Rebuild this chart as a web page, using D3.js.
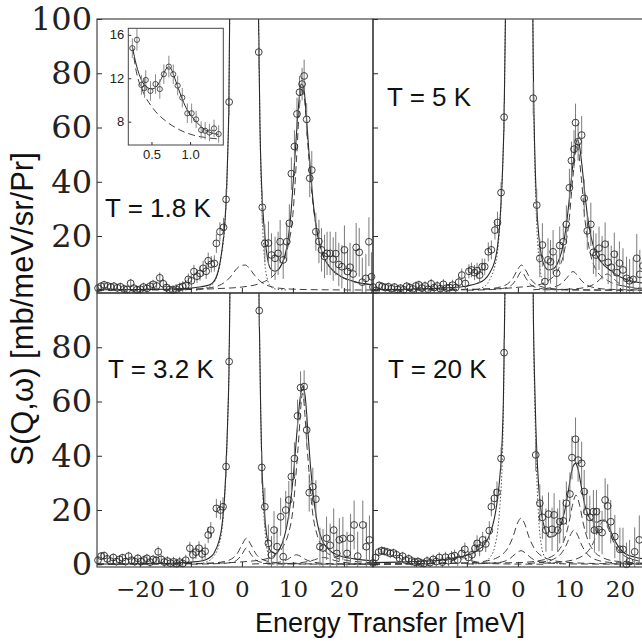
<!DOCTYPE html>
<html><head><meta charset="utf-8">
<script src="https://cdn.jsdelivr.net/npm/d3@7"></script>
<style>body{margin:0;background:#fff}svg{display:block}</style>
</head><body><svg id="c" width="642" height="642"></svg>
<script>
// ---------- data ----------
const xDomain = [-28.4, 25.7];
const yDomain = [-1, 100];
const xTicks = [-20, -10, 0, 10, 20];
const yTicksTop = [0, 20, 40, 60, 80, 100];
const yTicksBottom = [0, 20, 40, 60, 80];
const panelLabels = ["T = 1.8 K", "T = 5 K", "T = 3.2 K", "T = 20 K"];
const xTitle = "Energy Transfer [meV]";
const yTitle = "S(Q,\u03c9) [mb/meV/sr/Pr]";

// [E, S, error]
const pts18 = [[-28.2,0.8,1.5],[-27.6,1.5,1.5],[-27.0,2.0,1.5],[-26.3,1.6,1.5],[-25.7,1.2,1.5],[-25.1,1.5,1.5],[-24.4,0.9,1.5],[-23.8,1.3,1.5],[-23.1,0.5,1.5],[-22.5,0.3,1.5],[-21.8,2.6,1.6],[-21.2,0.8,1.6],[-20.6,0.2,1.6],[-19.9,0.4,1.6],[-19.3,1.2,1.6],[-18.6,0.7,1.6],[-18.0,1.5,1.7],[-17.4,2.2,1.7],[-16.7,1.6,1.7],[-16.1,4.6,2],[-15.4,2.4,1.8],[-14.8,1.0,1.8],[-14.2,0.3,1.8],[-13.5,0.1,1.8],[-12.9,0.4,1.9],[-12.2,1.0,1.9],[-11.6,1.4,2],[-11.0,1.8,2],[-10.5,4.0,2.2],[-9.9,3.5,2.3],[-9.4,6.9,2.5],[-8.8,5.2,2.5],[-8.2,6.2,2.6],[-7.6,8.1,2.8],[-7.0,7.0,2.8],[-6.6,10.9,3],[-6.0,9.6,3],[-5.4,9.9,3],[-5.0,17.3,3.5],[-4.3,21.6,3.5],[-3.6,23.2,3.5],[-3.1,33.5,4],[-2.5,69.4,5],
[3.3,87.8,6],[4.0,30.6,6],[4.5,17.3,7],[5.2,17.4,8],[5.8,13.0,8],[6.5,11.8,8],[7.1,13.6,8],[7.5,17.9,8],[8.1,11.2,7],[8.8,17.9,7],[9.3,24.7,7],[9.7,43.0,6],[10.3,53,6],[10.8,65,6],[11.3,73,6],[11.8,76,6],[12.2,79,6],[12.7,63,6],[13.3,41.3,7],[13.7,44.3,7],[14.5,21.6,7],[15.1,18,8],[15.6,14.9,8],[16.2,12.5,8],[16.7,13.6,8],[17.3,13.6,8],[17.9,11.5,8],[18.4,13.5,8],[19.0,9.5,8],[19.6,8.7,8],[20.1,14.9,9],[20.7,6.9,8],[21.2,8.5,9],[21.8,6,9],[22.4,15.8,9],[23.0,14,9],[23.6,3,9],[24.3,4.4,9],[24.9,17.9,9],[25.4,5,9]];
const fit18 = [[-28.4,0.2],[-20,0.3],[-14,0.5],[-10,0.8],[-8,1.3],[-6.3,2],[-5,5],[-4,13.6],[-3.3,26],[-3.0,37],[-2.75,52],[-2.55,69],[-2.4,100],[-2.2,140],[3.0,140],[3.2,110],[3.35,88],[3.55,60],[3.8,42],[4.1,30],[4.5,20],[5.0,12],[5.6,8],[6.5,7],[7.5,8.5],[8.3,12],[9.0,18],[9.6,28],[10.1,41],[10.6,55],[11.1,68],[11.6,76],[12.1,75],[12.6,65],[13.1,52],[13.7,38],[14.3,27],[15,19],[16,12.5],[17.5,8],[19.5,5],[22,3.2],[25.7,2]];
const elas18 = [[-9,0],[-6.3,1.5],[-5,4.5],[-4,13],[-3.3,25],[-3.0,36],[-2.75,52],[-2.55,69],[-2.4,100],[-2.2,140],[3.0,140],[3.2,110],[3.35,88],[3.55,60],[3.8,38],[4.1,22],[4.5,10],[5.0,4],[5.6,1.5],[6.5,0.5],[9,0.1]];
const qe18 = [[-28.4,0.1],[-12,0.3],[-8,0.6],[-6,1],[-4,2.2],[-3,3.5],[-2,5.5],[-1,8],[0,9.2],[0.7,9.3],[1.5,8],[2.5,5.5],[3.5,3.5],[4.5,2.2],[6,1.2],[9,0.5],[15,0.2],[25.7,0.1]];
const inel18 = [[-28.4,0.1],[-10,0.3],[-5,0.6],[0,1.2],[3,2.2],[5,3.8],[6.5,6],[8,10.5],[9,16],[10,28],[10.7,48],[11.3,68],[11.8,75],[12.3,70],[13,52],[13.7,36],[14.5,24],[15.5,15],[17,9],[19,5.5],[22,3.2],[25.7,2]];

const pts5 = [[-28.4,1.2,1.5],[-27.8,0.0,1.5],[-27.2,1.8,1.5],[-26.6,1.4,1.5],[-26.0,1.0,1.5],[-25.4,1.3,1.5],[-24.8,0.6,1.5],[-24.2,1.2,1.5],[-23.6,0.3,1.5],[-23.0,0.8,1.5],[-22.4,0.2,1.6],[-21.8,1.5,1.6],[-21.2,1.0,1.6],[-20.6,0.5,1.6],[-20.0,1.6,1.6],[-19.4,2.0,1.6],[-18.8,0.8,1.7],[-18.2,1.6,1.7],[-17.6,0.4,1.7],[-17.0,2.4,1.8],[-16.4,1.0,1.8],[-15.8,1.6,1.8],[-15.2,0.6,1.8],[-14.6,2.2,1.9],[-14.0,0.8,1.9],[-13.4,1.0,2],[-12.8,1.9,2],[-12.2,1.0,2],[-11.6,3.0,2.2],[-11.0,5.6,2.4],[-10.3,2.5,2.4],[-9.6,7.0,2.6],[-9.1,7.5,2.7],[-8.5,6.5,2.8],[-8.0,7.2,2.9],[-7.5,5.6,3],[-7.0,8.7,3],[-6.5,8.7,3],[-5.8,14.2,3.5],[-5.2,14.9,3.5],[-4.5,22.2,3.5],[-4.0,25.0,4],[-3.3,36,4],[-2.7,63.8,5],
[3.0,70.8,6],[3.7,31.4,6],[4.3,11.8,7],[4.8,16.7,8],[5.3,3.2,8],[5.9,11.2,8],[6.4,10.5,8],[6.9,14.2,8],[7.6,6.3,7],[8.2,16.5,7],[8.9,17.9,7],[9.5,24.3,7],[10.1,37.8,7],[10.5,47.8,7],[11.0,52,7],[11.3,61.8,7],[11.8,54.8,7],[12.5,57.2,7],[13.0,33.9,7],[13.6,21.9,7],[14.3,24.3,8],[14.8,14,8],[15.3,13,8],[15.9,15.5,8],[16.5,12,8],[17.1,17,8],[17.7,10.3,8],[18.3,8.5,8],[18.9,13.3,8],[19.4,6.5,8],[19.9,10,8],[20.6,7.5,8],[21.3,4.4,8],[21.9,3.5,8],[22.6,4,8],[23.3,11.8,9],[23.9,5.9,9],[24.5,9,9]];
const fit5 = [[-28.4,0.3],[-20,0.5],[-14,0.9],[-10,1.6],[-8,2.5],[-6.5,4],[-5.5,6.5],[-4.5,11],[-4,16],[-3.5,26],[-3.2,36],[-2.9,50],[-2.7,64],[-2.55,85],[-2.45,100],[-2.3,140],[2.8,140],[2.9,110],[3.0,85],[3.15,65],[3.4,45],[3.7,31],[4.1,20],[4.6,13],[5.2,9],[6,7.5],[7,8],[8,11],[8.8,16],[9.5,24],[10.1,34],[10.7,45],[11.2,52],[11.6,55.5],[12.0,54],[12.5,47],[13,38],[13.6,28],[14.3,20],[15.2,14],[16.5,10],[18,7.5],[20,5],[22,3.5],[25.7,2.5]];
const elas5 = [[-9,0],[-6.5,1.5],[-5.5,4],[-4.5,9],[-4,14],[-3.5,25],[-3.2,35],[-2.9,50],[-2.7,64],[-2.55,85],[-2.45,100],[-2.3,140],[2.8,140],[2.9,110],[3.0,85],[3.15,63],[3.4,40],[3.7,24],[4.1,12],[4.6,5],[5.2,2],[6,0.7],[9,0.1]];
const qe5 = [[-28.4,0.03],[-10,0.2],[-6,0.5],[-4,0.97],[-3,1.46],[-2,2.4],[-1,4.4],[0,7.8],[0.7,9.3],[1.4,7.8],[2.4,4.4],[3.4,2.4],[4.4,1.46],[5.4,0.97],[7.4,0.5],[11,0.22],[25.7,0.04]];
const qeb5 = [[-10,0.05],[-5,0.29],[-3,0.66],[-2,1.14],[-1,2.3],[-0.2,4.4],[0.7,6.9],[1.6,4.4],[2.4,2.3],[3.4,1.14],[4.4,0.66],[6.4,0.29],[10,0.11],[25.7,0.02]];
const inel5 = [[-28.4,0.1],[-5,0.5],[0,1.1],[4,2.0],[6,3.6],[8,8.0],[9,13.5],[10,25.2],[10.8,42],[11.6,54],[12.4,42],[13.2,25.2],[14.2,13.5],[15.2,8],[17.6,3.6],[19.6,2.0],[25.7,0.6]];
const small5 = [[3,0.2],[6,0.77],[7.5,1.45],[8.5,2.44],[9.5,4.36],[10.8,6.9],[12.1,4.36],[13.1,2.44],[14.1,1.45],[15.6,0.77],[18,0.36],[25.7,0.1]];
const high5 = [[5,0.15],[11,0.52],[13,0.99],[14.5,1.85],[15.5,3],[16.5,4.8],[17.5,6],[18.5,4.8],[19.5,3],[20.5,1.85],[22,0.99],[25.7,0.45]];

const pts32 = [[-28.2,1.5,1.5],[-27.6,3.0,1.5],[-27.0,3.2,1.5],[-26.4,2.0,1.5],[-25.8,1.2,1.5],[-25.2,2.5,1.5],[-24.6,1.0,1.5],[-24.0,1.8,1.5],[-23.4,2.4,1.5],[-22.8,1.0,1.5],[-22.2,3.0,1.6],[-21.6,1.5,1.6],[-21.0,1.0,1.6],[-20.4,2.2,1.6],[-19.8,1.0,1.6],[-19.2,1.6,1.6],[-18.6,2.2,1.7],[-18.0,0.8,1.7],[-17.4,1.8,1.7],[-16.8,1.4,1.7],[-16.4,4.6,2],[-15.8,1.8,1.8],[-15.2,0.8,1.8],[-14.6,1.2,1.8],[-14.0,0.4,1.8],[-13.4,0.9,1.9],[-12.8,0.2,1.9],[-12.2,0.8,1.9],[-11.6,0.3,2],[-11.0,1.5,2],[-10.2,5.9,2.4],[-9.6,3.5,2.4],[-9.0,4.5,2.5],[-8.4,5.9,2.6],[-7.8,3.8,2.6],[-7.2,4.8,2.8],[-6.6,10.8,3],[-6.1,12.6,3],[-5.0,20.6,3.5],[-4.2,20,3.5],[-3.7,21.2,3.5],[-3.1,36,4],[-2.5,74.7,5],
[3.4,93.5,6],[3.9,35.7,6],[4.5,21.2,7],[5.2,7.7,7],[5.8,3.4,7],[6.3,12.6,7],[6.9,6.5,7],[7.6,17.5,7],[8.1,2.8,7],[8.6,20,7],[9.2,23.7,7],[9.7,32.3,6],[10.3,39,6],[10.9,54.7,6],[11.5,65.1,6],[12.2,65.5,6],[12.7,49.5,6],[13.2,26.4,7],[13.9,28.6,7],[14.5,24,7],[15.3,6.5,7],[15.9,6,7],[16.6,9.6,8],[17.3,7,8],[18.0,12.6,8],[18.6,4,8],[19.1,9,8],[19.8,9.5,8],[20.6,4,8],[21.3,9.6,9],[22.0,14.5,9],[22.7,3,9],[23.7,14.5,9],[24.4,6.5,9],[25.0,9,9]];
const fit32 = [[-28.4,0.1],[-20,0.2],[-14,0.4],[-10,0.8],[-8,1.2],[-6.5,2.2],[-5.5,4],[-4.5,8.5],[-4,13],[-3.5,22],[-3.1,36],[-2.8,52],[-2.5,75],[-2.35,100],[-2.2,140],[3.2,140],[3.35,100],[3.5,80],[3.7,55],[3.9,38],[4.2,25],[4.6,15],[5.1,8],[5.8,4.5],[6.6,4],[7.5,6],[8.3,10],[9,16],[9.6,24],[10.2,35],[10.8,49],[11.4,61],[11.9,65.5],[12.4,62],[12.9,50],[13.5,35],[14.1,24],[14.8,15],[15.7,9],[17,5.5],[19,3.2],[22,2],[25.7,1.2]];
const elas32 = [[-9,0],[-6.5,1.2],[-5.5,3],[-4.5,7],[-4,11.5],[-3.5,21],[-3.1,35],[-2.8,52],[-2.5,75],[-2.35,100],[-2.2,140],[3.2,140],[3.35,100],[3.5,80],[3.7,55],[3.9,36],[4.2,22],[4.6,11],[5.1,4],[5.8,1.2],[7,0.3],[9,0.1]];
const qe32 = [[-28.4,0.03],[-10,0.18],[-6,0.43],[-4,0.82],[-3,1.24],[-2,2.0],[-1,3.7],[0,7.1],[0.9,9.6],[1.8,7.1],[2.8,3.7],[3.8,2.0],[4.8,1.24],[5.8,0.82],[7.8,0.43],[11.8,0.18],[25.7,0.04]];
const qeb32 = [[-10,0.04],[-4,0.29],[-2,0.75],[-1,1.5],[0,3.6],[0.9,6],[1.8,3.6],[2.8,1.5],[3.8,0.75],[5.8,0.29],[9,0.11],[25.7,0.02]];
const inel32 = [[-28.4,0.1],[-5,0.4],[0,0.9],[4,1.7],[6,2.9],[8,6.3],[9,10.5],[10,20],[11,42.6],[11.9,63],[12.8,42.6],[13.8,20],[14.8,10.5],[15.8,6.3],[17.8,2.9],[19.8,1.7],[25.7,0.56]];
const small32 = [[2,0.12],[6,0.45],[8,1.08],[9,1.85],[10,3.04],[10.7,3.5],[11.4,3.04],[12.4,1.85],[13.4,1.08],[15.4,0.45],[18,0.2],[25.7,0.06]];
const high32 = [[5,0.1],[10,0.37],[12,0.7],[13.5,1.25],[16,2.5],[18.5,1.25],[20,0.7],[22,0.37],[25.7,0.16]];

const pts20 = [[-28.4,0.5,1.5],[-27.9,2.5,1.5],[-27.3,4.5,1.6],[-26.7,5.0,1.6],[-26.2,4.8,1.6],[-25.6,4.5,1.6],[-25.0,4.0,1.6],[-24.4,4.2,1.6],[-23.8,3.5,1.6],[-23.2,2.2,1.6],[-22.6,3.0,1.6],[-22.0,1.5,1.6],[-21.4,2.0,1.7],[-20.8,1.2,1.7],[-20.2,0.8,1.7],[-19.6,1.0,1.7],[-19.0,0.5,1.7],[-18.4,0.3,1.7],[-17.8,1.2,1.8],[-17.2,0.6,1.8],[-16.6,1.8,1.8],[-16.0,1.0,1.8],[-15.4,2.5,1.9],[-14.8,0.8,1.9],[-14.2,2.6,2],[-13.6,1.3,2],[-13.0,2.8,2.1],[-12.4,3.2,2.2],[-11.8,1.6,2.2],[-11.0,4.0,2.4],[-10.4,5.5,2.5],[-9.7,2.5,2.5],[-9.0,3.5,2.6],[-8.4,5.9,2.8],[-8.0,7.7,3],[-7.5,6.0,3],[-6.9,9.0,3],[-6.3,7.5,3],[-5.6,12.4,3.5],[-5.2,21.2,3.5],[-4.6,24.3,3.5],[-4.1,26.5,4],[-3.3,39,4],[-2.7,78,5],
[3.5,40.3,6],[4.3,22.5,7],[4.8,17.3,8],[5.5,12.6,8],[6.0,18.5,8],[6.7,12.9,8],[7.1,18.2,8],[7.8,12.6,8],[8.2,15.7,8],[8.9,16,8],[9.5,22.5,8],[10.2,25.9,8],[10.6,39.3,8],[11.3,46.1,8],[11.8,38.4,8],[12.5,37.2,8],[13.0,26.8,8],[13.5,19.4,8],[14.1,17.3,8],[14.8,19.4,8],[15.0,12.6,8],[15.4,19.4,8],[15.9,12.8,8],[16.5,11.7,8],[17.1,23.7,8],[17.6,21.5,8],[18.2,15.7,8],[19.0,10.2,8],[20.0,5.5,8],[20.6,5.5,8],[21.3,0.0,8],[21.9,1.0,8],[22.9,4.6,9],[23.8,9,9]];
const fit20 = [[-28.4,0.6],[-20,1.0],[-15,1.6],[-12,2.5],[-10,3.3],[-8,5],[-6.5,7.5],[-5.5,11],[-4.6,17],[-4,24],[-3.5,33],[-3.1,45],[-2.85,60],[-2.7,78],[-2.55,100],[-2.4,140],[2.85,140],[2.95,110],[3.05,90],[3.25,70],[3.5,52],[3.75,40],[4.1,28],[4.6,19],[5.3,13],[6.2,10],[7.2,10.5],[8.2,13.5],[9.1,19],[9.8,26],[10.4,33],[10.9,36.5],[11.3,37.2],[11.8,35],[12.4,29],[13.1,22],[13.8,18],[14.6,16],[15.5,15.5],[16.3,16.2],[17,16.3],[17.8,14],[18.7,10],[19.7,6.5],[21,4],[23,2.6],[25.7,1.8]];
const elas20 = [[-9,0],[-6.5,1],[-5.5,2.5],[-4.6,6],[-4,12],[-3.5,22],[-3.1,36],[-2.85,55],[-2.7,76],[-2.55,100],[-2.4,140],[2.85,140],[2.95,110],[3.05,88],[3.25,65],[3.5,44],[3.75,30],[4.1,16],[4.6,7],[5.3,2.5],[6.2,0.8],[9,0.1]];
const qe20 = [[-28.4,0.07],[-10,0.53],[-6,1.3],[-4,2.48],[-3,3.7],[-2,5.9],[-1,9.9],[0,15.5],[0.6,17],[1.2,15.5],[2.2,9.9],[3.2,5.9],[4.2,3.7],[5.2,2.48],[7.2,1.3],[10,0.67],[15,0.3],[25.7,0.1]];
const qeb20 = [[-10,0.1],[-4,0.6],[-2.5,1.2],[-1.5,2.2],[-0.5,3.8],[0.6,5],[1.7,3.8],[2.7,2.2],[3.7,1.2],[5.2,0.6],[10,0.15],[25.7,0.03]];
const inel20 = [[-28.4,0.1],[-5,0.5],[0,0.6],[4,1.28],[6,2.3],[8,5.1],[9,8.5],[10,15.2],[10.7,21.8],[11.4,25.5],[12.1,21.8],[12.8,15.2],[13.8,8.5],[14.8,5.1],[16.8,2.3],[19,1.2],[25.7,0.35]];
const small20 = [[2,0.3],[5,0.9],[7,1.9],[8.5,4],[9.5,7.1],[10.3,10.8],[11,12.6],[11.7,10.8],[12.5,7.1],[13.5,4],[15,1.9],[18,0.7],[25.7,0.2]];
const high20 = [[5,0.4],[10,1.27],[12,2.4],[13.5,4.3],[14.8,8],[15.8,12.8],[16.8,16],[17.8,12.8],[18.8,8],[20.1,4.3],[21.6,2.4],[23.6,1.27],[25.7,0.75]];
const anti20 = [[-28.4,0.05],[-20,0.12],[-16,0.34],[-14,0.77],[-13,1.25],[-11,2.5],[-9,1.25],[-8,0.77],[-6,0.34],[-2,0.12],[5,0.03]];

// inset (T = 1.8 K, low energy)
const insetXDomain = [0.2, 1.43];
const insetYDomain = [5.85, 16.6];
const insetXTicks = [0.5, 1.0];
const insetYTicks = [8, 12, 16];
const insetPts = [[0.252,14.77,0.9],[0.312,15.54,1.0],[0.37,11.38,0.9],[0.41,11.1,0.9],[0.426,11.84,0.9],[0.487,10.83,0.9],[0.552,11.47,0.9],[0.608,11.0,0.9],[0.66,12.37,0.9],[0.725,13.07,1.0],[0.782,12.37,0.9],[0.839,11.32,0.9],[0.899,10.21,0.9],[0.964,8.77,0.9],[1.02,8.77,0.9],[1.078,8.21,0.8],[1.143,7.23,0.8],[1.195,7.16,0.8],[1.25,7.0,0.8],[1.31,7.38,0.8],[1.37,6.86,0.8]];
const insetFit = [[0.252,14.92],[0.304,13.23],[0.37,11.84],[0.435,11.22],[0.5,11.01],[0.565,11.22],[0.63,12.0],[0.696,12.92],[0.726,13.07],[0.761,12.77],[0.817,11.69],[0.878,10.46],[0.956,9.17],[1.042,8.31],[1.13,7.62],[1.238,7.07],[1.368,6.83]];
const insetDecay = [[0.252,14.92],[0.304,12.61],[0.39,10.77],[0.52,9.23],[0.696,8.0],[0.869,7.23],[1.042,6.76],[1.217,6.52],[1.39,6.4]];

// ---------- layout ----------
const svg = d3.select("#c");
const L = 97, T = 19, PW = 276, PH = 274;
const x = d3.scaleLinear().domain(xDomain).range([0, PW]);
const y = d3.scaleLinear().domain(yDomain).range([PH, 0]);
const ink = "#2a2a2a";
const serif = "'DejaVu Serif','Liberation Serif',serif";
const sans = "'Liberation Sans',Arial,sans-serif";

const panels = [
  {col:0,row:0,label:panelLabels[0],lx:8,ly:198,pts:pts18,fit:fit18,elas:elas18,dashed:[qe18,inel18],yt:yTicksTop,inset:true},
  {col:1,row:0,label:panelLabels[1],lx:14,ly:87,pts:pts5,fit:fit5,elas:elas5,dashed:[qe5,qeb5,inel5,small5,high5],yt:yTicksTop},
  {col:0,row:1,label:panelLabels[2],lx:11,ly:85,pts:pts32,fit:fit32,elas:elas32,dashed:[qe32,qeb32,inel32,small32,high32],yt:yTicksBottom},
  {col:1,row:1,label:panelLabels[3],lx:15,ly:85,pts:pts20,fit:fit20,elas:elas20,dashed:[qe20,qeb20,inel20,small20,high20,anti20],yt:yTicksBottom}
];

const line = d3.line().x(d => x(d[0])).y(d => y(d[1])).curve(d3.curveMonotoneX);

panels.forEach((p, i) => {
  const g = svg.append("g").attr("transform", `translate(${L + p.col*PW},${T + p.row*PH})`);
  const cid = "clip" + i;
  g.append("clipPath").attr("id", cid).append("rect").attr("width", PW).attr("height", PH);
  const cg = g.append("g").attr("clip-path", `url(#${cid})`);

  p.dashed.forEach(d => cg.append("path").attr("d", line(d)).attr("fill","none")
    .attr("stroke", ink).attr("stroke-width", 0.9).attr("stroke-dasharray","7,4"));
  cg.append("path").attr("d", line(p.elas)).attr("fill","none")
    .attr("stroke", "#555").attr("stroke-width", 1).attr("stroke-dasharray","1.5,2");
  cg.append("path").attr("d", line(p.fit)).attr("fill","none")
    .attr("stroke", ink).attr("stroke-width", 1.1);

  cg.selectAll("line.err").data(p.pts).join("line").attr("class","err")
    .attr("x1", d => x(d[0])).attr("x2", d => x(d[0]))
    .attr("y1", d => y(d[1]-d[2])).attr("y2", d => y(d[1]+d[2]))
    .attr("stroke", "#7a7a7a").attr("stroke-width", 1);
  g.selectAll("circle.pt").data(p.pts).join("circle").attr("class","pt")
    .attr("cx", d => x(d[0])).attr("cy", d => y(d[1])).attr("r", 3.4)
    .attr("fill","none").attr("stroke", ink).attr("stroke-width", 0.9);

  // axes with inward ticks
  const ay = d3.axisLeft(y).tickValues(p.yt).tickSize(-5).tickSizeOuter(0).tickPadding(5);
  if (p.col === 1) ay.tickFormat("");
  const yg = g.append("g").call(ay);
  yg.select(".domain").remove();
  yg.selectAll("line").attr("stroke", ink);
  yg.selectAll("text").attr("font-family", serif).attr("font-size", 32).attr("fill","#222");

  const ax = d3.axisBottom(x).tickValues(xTicks).tickSize(-5).tickSizeOuter(0).tickPadding(14);
  if (p.row === 0) ax.tickFormat("");
  const xg = g.append("g").attr("transform", `translate(0,${PH})`).call(ax);
  xg.select(".domain").remove();
  xg.selectAll("line").attr("stroke", ink);
  xg.selectAll("text").attr("font-family", serif).attr("font-size", 23).attr("fill","#222");

  g.append("rect").attr("width", PW).attr("height", PH).attr("fill","none")
    .attr("stroke", "#333").attr("stroke-width", 1.1);

  g.append("text").attr("x", p.lx).attr("y", p.ly).text(p.label)
    .attr("font-family", sans).attr("font-size", 26).attr("fill","#111");

  if (p.inset) {
    const IX = 31.3, IY = 9.3, IW = 95, IH = 116.7;
    const ix = d3.scaleLinear().domain(insetXDomain).range([0, IW]);
    const iy = d3.scaleLinear().domain(insetYDomain).range([IH, 0]);
    const ig = g.append("g").attr("transform", `translate(${IX},${IY})`);
    ig.append("rect").attr("width", IW).attr("height", IH).attr("fill","#fff");
    const il = d3.line().x(d => ix(d[0])).y(d => iy(d[1])).curve(d3.curveMonotoneX);
    ig.append("path").attr("d", il(insetDecay)).attr("fill","none").attr("stroke", ink)
      .attr("stroke-width", 0.9).attr("stroke-dasharray","7,4");
    ig.append("path").attr("d", il(insetFit)).attr("fill","none").attr("stroke", ink).attr("stroke-width", 1);
    ig.selectAll("line.e").data(insetPts).join("line").attr("class","e")
      .attr("x1", d => ix(d[0])).attr("x2", d => ix(d[0]))
      .attr("y1", d => iy(d[1]-d[2])).attr("y2", d => iy(d[1]+d[2]))
      .attr("stroke","#8a8a8a").attr("stroke-width", 1);
    ig.selectAll("circle").data(insetPts).join("circle")
      .attr("cx", d => ix(d[0])).attr("cy", d => iy(d[1])).attr("r", 2.6)
      .attr("fill","none").attr("stroke", ink).attr("stroke-width", 0.8);
    const iay = d3.axisLeft(iy).tickValues(insetYTicks).tickSize(-3).tickSizeOuter(0).tickPadding(4);
    const iyg = ig.append("g").call(iay);
    iyg.select(".domain").remove();
    const iax = d3.axisBottom(ix).tickValues(insetXTicks).tickSize(-3).tickSizeOuter(0).tickPadding(5)
      .tickFormat(d3.format(".1f"));
    const ixg = ig.append("g").attr("transform", `translate(0,${IH})`).call(iax);
    ixg.select(".domain").remove();
    [iyg, ixg].forEach(a => {
      a.selectAll("line").attr("stroke", ink);
      a.selectAll("text").attr("font-family", sans).attr("font-size", 13).attr("fill","#222");
    });
    ig.append("rect").attr("width", IW).attr("height", IH).attr("fill","none").attr("stroke","#444").attr("stroke-width", 1);
  }
});

svg.append("text").attr("transform", "translate(33,309) rotate(-90)").attr("text-anchor","middle")
  .attr("font-family", sans).attr("font-size", 31).attr("fill","#111").text(yTitle);
svg.append("text").attr("x", 390).attr("y", 632).attr("text-anchor","middle")
  .attr("font-family", sans).attr("font-size", 27).attr("fill","#111").text(xTitle);
</script></body></html>
